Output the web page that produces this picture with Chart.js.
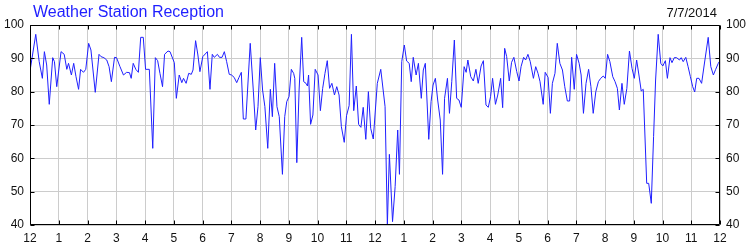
<!DOCTYPE html>
<html>
<head>
<meta charset="utf-8">
<script src="https://cdn.jsdelivr.net/npm/chart.js@4/dist/chart.umd.min.js"></script>
<style>
  html, body { margin: 0; padding: 0; background: #fff; }
  #wrap { position: relative; width: 750px; height: 250px; }
  canvas { display: block; }
</style>
</head>
<body>
<div id="wrap"><canvas id="c" width="750" height="250"></canvas></div>
<script>
const chartTitle = 'Weather Station Reception';
const chartDate = '7/7/2014';
const hourLabels = ['12','1','2','3','4','5','6','7','8','9','10','11','12','1','2','3','4','5','6','7','8','9','10','11','12'];
const yTicks = [40, 50, 60, 70, 80, 90, 100];

const sampleHours = [
  0.00,0.20,0.32,0.43,0.50,0.58,0.67,0.79,0.85,0.93,
  1.08,1.19,1.28,1.34,1.44,1.52,1.60,1.69,1.76,1.86,
  1.94,2.04,2.12,2.27,2.40,2.47,2.57,2.67,2.75,2.83,
  2.94,3.01,3.13,3.25,3.36,3.46,3.52,3.59,3.68,3.77,
  3.85,3.94,4.02,4.15,4.27,4.36,4.44,4.52,4.61,4.68,
  4.80,4.87,5.02,5.09,5.19,5.28,5.34,5.43,5.52,5.61,
  5.67,5.76,5.84,5.91,6.01,6.17,6.26,6.34,6.41,6.52,
  6.59,6.68,6.76,6.84,6.93,7.01,7.10,7.19,7.27,7.35,
  7.42,7.51,7.66,7.77,7.85,7.93,8.01,8.09,8.17,8.27,
  8.36,8.43,8.51,8.59,8.67,8.78,8.86,8.93,9.01,9.09,
  9.17,9.21,9.28,9.36,9.45,9.52,9.60,9.65,9.69,9.76,
  9.84,9.92,10.02,10.10,10.18,10.26,10.34,10.42,10.50,10.59,
  10.67,10.75,10.83,10.93,11.01,11.10,11.18,11.26,11.35,11.43,
  11.51,11.59,11.68,11.77,11.85,11.94,12.08,12.20,12.35,12.43,
  12.50,12.61,12.70,12.79,12.85,12.93,13.02,13.10,13.19,13.26,
  13.33,13.43,13.51,13.61,13.68,13.75,13.87,13.95,14.02,14.10,
  14.18,14.27,14.35,14.42,14.52,14.59,14.67,14.76,14.84,14.92,
  15.00,15.10,15.17,15.23,15.33,15.42,15.51,15.59,15.69,15.77,
  15.86,15.94,16.02,16.09,16.19,16.27,16.37,16.44,16.51,16.58,
  16.67,16.75,16.83,16.93,17.01,17.08,17.17,17.24,17.32,17.40,
  17.51,17.59,17.67,17.74,17.85,17.92,18.02,18.10,18.17,18.26,
  18.34,18.43,18.52,18.60,18.69,18.77,18.84,18.93,19.01,19.10,
  19.17,19.25,19.34,19.43,19.51,19.59,19.68,19.77,19.85,19.94,
  20.01,20.09,20.17,20.27,20.35,20.43,20.50,20.59,20.67,20.76,
  20.85,20.94,21.02,21.10,21.18,21.26,21.33,21.45,21.52,21.61,
  21.69,21.76,21.85,21.94,22.01,22.10,22.17,22.26,22.33,22.41,
  22.49,22.59,22.65,22.72,22.81,22.89,22.97,23.05,23.12,23.19,
  23.27,23.36,23.45,23.59,23.68,23.77,23.85,23.94,24.00
];

const receptionPct = [
  86.2,97.2,89.0,84.0,92.0,88.0,76.2,90.2,89.0,81.5,
  92.0,91.2,86.7,88.5,85.0,88.5,84.5,80.7,86.7,85.8,
  86.7,94.5,92.5,79.8,91.2,90.5,90.2,89.5,87.5,83.0,
  90.3,90.2,87.5,85.0,85.8,85.7,84.0,88.5,86.7,85.8,
  96.3,96.3,86.7,86.7,63.0,90.2,89.3,85.5,81.5,91.2,
  92.2,92.0,88.7,78.0,85.0,82.7,84.0,82.5,85.5,85.2,
  86.5,95.3,91.0,86.0,90.5,92.0,80.7,91.2,90.3,91.2,
  90.3,90.3,92.0,89.0,85.2,85.0,84.3,82.7,84.3,85.8,
  71.8,71.8,94.5,80.0,68.5,75.5,90.2,80.5,75.5,63.0,
  80.7,72.5,88.5,75.5,72.5,55.2,72.5,77.0,78.5,86.7,
  85.5,84.0,58.7,80.5,96.3,83.0,82.5,81.7,85.0,70.2,
  73.0,86.7,85.0,74.3,81.0,85.5,89.3,81.0,82.5,79.0,
  81.5,79.0,69.5,64.8,72.8,75.8,97.2,74.3,81.7,70.2,
  69.3,75.3,65.7,80.0,69.0,65.8,82.5,86.7,75.5,40.0,
  61.2,41.0,51.5,68.5,55.2,89.0,94.0,89.2,88.5,83.0,
  90.3,85.0,88.5,78.0,86.5,88.5,65.7,77.0,82.0,84.0,
  77.5,71.5,55.2,78.0,84.0,73.5,83.0,95.5,78.0,77.5,
  75.3,87.5,85.8,89.5,84.5,83.2,86.7,82.5,87.7,89.3,
  76.0,75.3,78.5,84.0,76.2,79.0,84.0,75.2,93.0,90.5,
  83.2,88.8,90.3,86.0,83.2,87.5,90.3,89.5,91.2,89.0,
  84.0,87.5,85.5,83.0,76.2,85.8,84.3,73.5,82.5,85.5,
  94.5,88.5,86.5,81.5,77.2,77.2,90.3,80.7,91.2,88.5,
  85.0,73.5,82.5,86.7,81.5,73.5,80.0,83.0,84.0,84.7,
  84.0,91.2,89.0,84.5,83.0,81.0,74.5,82.5,76.2,81.0,
  92.2,87.0,84.0,89.5,85.0,80.2,80.7,52.5,52.5,46.5,
  66.5,83.5,97.2,88.5,87.7,89.3,84.0,90.2,88.7,90.2,
  90.2,89.5,90.2,89.0,90.3,87.5,84.5,81.5,79.9,84.0,
  84.0,82.5,88.0,96.3,87.5,85.0,86.7,88.5,89.3
];

const points = sampleHours.map((h, i) => ({ x: h, y: receptionPct[i] }));

const tickFont = { family: 'Liberation Sans, Arial, sans-serif', size: 12 };
const tickColor = '#111';

const frameAndTicks = {
  id: 'frameAndTicks',
  afterDraw(chart) {
    const ctx = chart.ctx;
    const a = chart.chartArea;
    const xs = chart.scales.x, ys = chart.scales.y;
    const L = Math.round(a.left) + 0.5, R = Math.round(a.right) - 0.5;
    const T = Math.round(a.top) + 0.5, B = Math.round(a.bottom) - 0.5;
    ctx.save();
    ctx.strokeStyle = '#000';
    ctx.lineWidth = 1;
    ctx.beginPath();
    ctx.rect(L, T, R - L, B - T);
    xs.ticks.forEach(t => {
      const px = Math.round(xs.getPixelForValue(t.value)) + 0.5;
      ctx.moveTo(px, B); ctx.lineTo(px, B - 4);
      ctx.moveTo(px, T); ctx.lineTo(px, T + 4);
    });
    ys.ticks.forEach(t => {
      const py = Math.round(ys.getPixelForValue(t.value)) + 0.5;
      ctx.moveTo(L, py); ctx.lineTo(L + 4, py);
      ctx.moveTo(R, py); ctx.lineTo(R - 4, py);
    });
    ctx.stroke();
    ctx.textBaseline = 'alphabetic';
    ctx.font = '16px "Liberation Sans", Arial, sans-serif';
    ctx.fillStyle = '#1e1eff';
    ctx.textAlign = 'left';
    ctx.fillText(chartTitle, 33, 17);
    ctx.font = '13px "Liberation Sans", Arial, sans-serif';
    ctx.fillStyle = '#111';
    ctx.textAlign = 'right';
    ctx.fillText(chartDate, 717, 17);
    ctx.restore();
  }
};

new Chart(document.getElementById('c'), {
  type: 'line',
  data: {
    datasets: [{
      label: 'Reception',
      data: points,
      borderColor: '#1f1fff',
      borderWidth: 1,
      pointRadius: 0,
      tension: 0,
      fill: false
    }]
  },
  options: {
    responsive: false,
    animation: false,
    devicePixelRatio: 1,
    layout: { padding: { top: 25, left: 0, right: 0, bottom: 0 } },
    plugins: { legend: { display: false }, title: { display: false }, tooltip: { enabled: false } },
    scales: {
      x: {
        type: 'linear',
        min: 0, max: 24,
        afterFit: s => { s.height = 25; },
        ticks: {
          stepSize: 1, autoSkip: false, maxRotation: 0,
          padding: 6,
          font: tickFont, color: tickColor,
          callback: (v) => hourLabels[v]
        },
        grid: { color: '#cccccc', drawTicks: false, lineWidth: 1 },
        border: { display: false }
      },
      y: {
        position: 'left',
        min: yTicks[0], max: yTicks[yTicks.length - 1],
        afterFit: s => { s.width = 30; },
        afterBuildTicks: s => { s.ticks = yTicks.map(v => ({ value: v })); },
        ticks: { padding: 6, font: tickFont, color: tickColor },
        grid: { color: '#cccccc', drawTicks: false, lineWidth: 1 },
        border: { display: false }
      },
      y2: {
        position: 'right',
        min: yTicks[0], max: yTicks[yTicks.length - 1],
        afterFit: s => { s.width = 30; },
        afterBuildTicks: s => { s.ticks = yTicks.map(v => ({ value: v })); },
        ticks: { padding: 6, font: tickFont, color: tickColor },
        grid: { drawOnChartArea: false, drawTicks: false },
        border: { display: false }
      }
    }
  },
  plugins: [frameAndTicks]
});
</script>
</body>
</html>
